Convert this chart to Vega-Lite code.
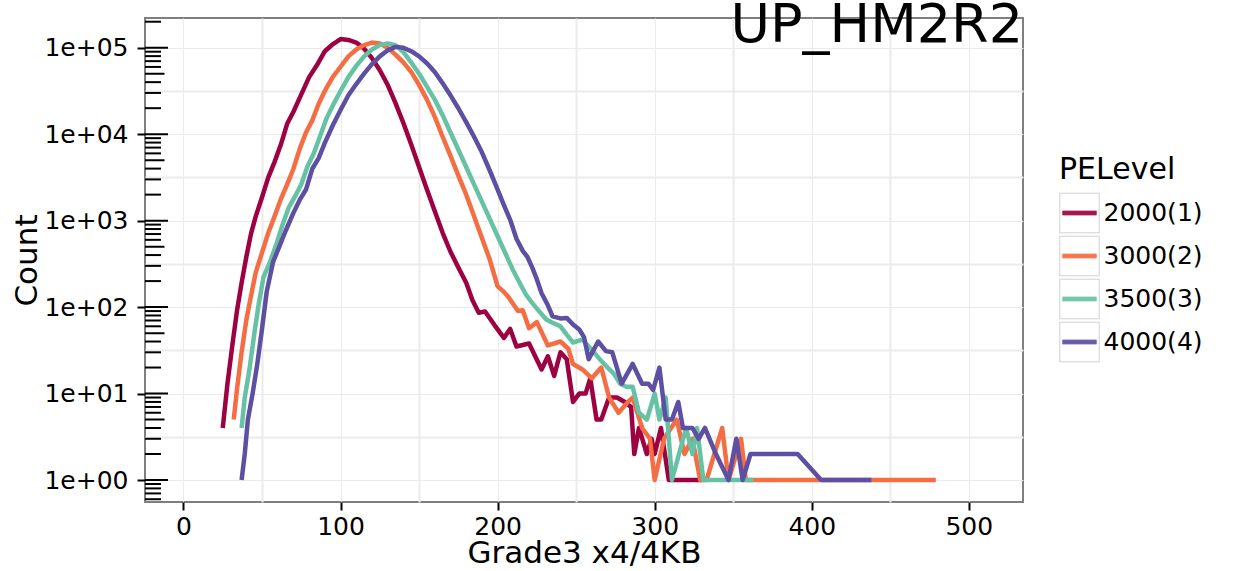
{
  "$schema": "https://vega.github.io/schema/vega-lite/v6.json",
  "width": 878,
  "height": 484,
  "autosize": {"type": "none"},
  "padding": {"left": 145, "top": 18, "right": 211, "bottom": 69},
  "config": {
    "font": "DejaVu Sans",
    "view": {"stroke": "#7f7f7f", "strokeWidth": 2},
    "axis": {"domain": false, "labelColor": "black", "titleColor": "black", "titleFontWeight": "normal", "tickColor": "black", "tickWidth": 2, "tickSize": 8, "gridColor": "#ebebeb"}
  },
  "title": {"text": "UP_HM2R2", "anchor": "end", "frame": "group", "fontSize": 54, "fontWeight": "normal", "color": "black", "baseline": "alphabetic", "offset": -27, "dy": 51},
  "datasets": {
    "curves": [
      {"s":"2000(1)","x":25,"n":4},{"s":"2000(1)","x":28,"n":13},{"s":"2000(1)","x":31,"n":35},{"s":"2000(1)","x":34,"n":89},{"s":"2000(1)","x":37,"n":191},{"s":"2000(1)","x":40,"n":380},{"s":"2000(1)","x":43,"n":708},{"s":"2000(1)","x":46,"n":1122},{"s":"2000(1)","x":50,"n":1862},{"s":"2000(1)","x":54,"n":3162},{"s":"2000(1)","x":58,"n":4786},{"s":"2000(1)","x":62,"n":7586},{"s":"2000(1)","x":66,"n":13183},{"s":"2000(1)","x":70,"n":18197},{"s":"2000(1)","x":75,"n":28840},{"s":"2000(1)","x":80,"n":45709},{"s":"2000(1)","x":85,"n":63096},{"s":"2000(1)","x":90,"n":91201},{"s":"2000(1)","x":95,"n":109648},{"s":"2000(1)","x":100,"n":125893},{"s":"2000(1)","x":105,"n":123027},{"s":"2000(1)","x":110,"n":114815},{"s":"2000(1)","x":115,"n":97724},{"s":"2000(1)","x":120,"n":75858},{"s":"2000(1)","x":125,"n":54954},{"s":"2000(1)","x":130,"n":37154},{"s":"2000(1)","x":135,"n":22909},{"s":"2000(1)","x":140,"n":13490},{"s":"2000(1)","x":145,"n":7586},{"s":"2000(1)","x":150,"n":4169},{"s":"2000(1)","x":155,"n":2291},{"s":"2000(1)","x":160,"n":1288},{"s":"2000(1)","x":165,"n":724},{"s":"2000(1)","x":170,"n":437},{"s":"2000(1)","x":175,"n":288},{"s":"2000(1)","x":180,"n":191},{"s":"2000(1)","x":184,"n":120},{"s":"2000(1)","x":188,"n":86},{"s":"2000(1)","x":192,"n":89},{"s":"2000(1)","x":198,"n":62},{"s":"2000(1)","x":204,"n":44},{"s":"2000(1)","x":208,"n":56},{"s":"2000(1)","x":212,"n":35},{"s":"2000(1)","x":220,"n":38},{"s":"2000(1)","x":228,"n":19},{"s":"2000(1)","x":232,"n":27},{"s":"2000(1)","x":236,"n":16},{"s":"2000(1)","x":240,"n":30},{"s":"2000(1)","x":244,"n":25},{"s":"2000(1)","x":248,"n":8},{"s":"2000(1)","x":252,"n":10},{"s":"2000(1)","x":256,"n":10},{"s":"2000(1)","x":259,"n":15},{"s":"2000(1)","x":263,"n":5},{"s":"2000(1)","x":266,"n":5},{"s":"2000(1)","x":271,"n":9},{"s":"2000(1)","x":276,"n":9},{"s":"2000(1)","x":281,"n":8},{"s":"2000(1)","x":285,"n":7},{"s":"2000(1)","x":287,"n":2},{"s":"2000(1)","x":290,"n":4},{"s":"2000(1)","x":295,"n":2},{"s":"2000(1)","x":298,"n":3},{"s":"2000(1)","x":300,"n":2},{"s":"2000(1)","x":304,"n":4},{"s":"2000(1)","x":309,"n":1},{"s":"2000(1)","x":330,"n":1},
      {"s":"3000(2)","x":32,"n":5},{"s":"3000(2)","x":34,"n":11},{"s":"3000(2)","x":37,"n":30},{"s":"3000(2)","x":40,"n":71},{"s":"3000(2)","x":43,"n":135},{"s":"3000(2)","x":46,"n":251},{"s":"3000(2)","x":50,"n":427},{"s":"3000(2)","x":54,"n":724},{"s":"3000(2)","x":58,"n":1122},{"s":"3000(2)","x":62,"n":1778},{"s":"3000(2)","x":66,"n":2630},{"s":"3000(2)","x":70,"n":3981},{"s":"3000(2)","x":74,"n":6761},{"s":"3000(2)","x":78,"n":10471},{"s":"3000(2)","x":82,"n":14454},{"s":"3000(2)","x":86,"n":22387},{"s":"3000(2)","x":90,"n":31623},{"s":"3000(2)","x":95,"n":45709},{"s":"3000(2)","x":100,"n":60256},{"s":"3000(2)","x":105,"n":79433},{"s":"3000(2)","x":110,"n":95499},{"s":"3000(2)","x":115,"n":107152},{"s":"3000(2)","x":120,"n":114815},{"s":"3000(2)","x":125,"n":112202},{"s":"3000(2)","x":130,"n":100000},{"s":"3000(2)","x":135,"n":83176},{"s":"3000(2)","x":140,"n":67608},{"s":"3000(2)","x":145,"n":52481},{"s":"3000(2)","x":150,"n":37154},{"s":"3000(2)","x":155,"n":25119},{"s":"3000(2)","x":160,"n":15849},{"s":"3000(2)","x":165,"n":9333},{"s":"3000(2)","x":170,"n":5623},{"s":"3000(2)","x":175,"n":3311},{"s":"3000(2)","x":180,"n":1995},{"s":"3000(2)","x":185,"n":1122},{"s":"3000(2)","x":190,"n":631},{"s":"3000(2)","x":195,"n":355},{"s":"3000(2)","x":200,"n":174},{"s":"3000(2)","x":204,"n":150},{"s":"3000(2)","x":207,"n":130},{"s":"3000(2)","x":210,"n":108},{"s":"3000(2)","x":213,"n":90},{"s":"3000(2)","x":216,"n":92},{"s":"3000(2)","x":220,"n":57},{"s":"3000(2)","x":225,"n":67},{"s":"3000(2)","x":232,"n":36},{"s":"3000(2)","x":240,"n":40},{"s":"3000(2)","x":245,"n":33},{"s":"3000(2)","x":248,"n":22},{"s":"3000(2)","x":254,"n":19},{"s":"3000(2)","x":260,"n":15},{"s":"3000(2)","x":266,"n":20},{"s":"3000(2)","x":271,"n":9},{"s":"3000(2)","x":277,"n":6},{"s":"3000(2)","x":283,"n":8},{"s":"3000(2)","x":286,"n":9},{"s":"3000(2)","x":292,"n":4},{"s":"3000(2)","x":297,"n":3},{"s":"3000(2)","x":300,"n":1},{"s":"3000(2)","x":306,"n":3},{"s":"3000(2)","x":314,"n":5},{"s":"3000(2)","x":319,"n":2},{"s":"3000(2)","x":324,"n":3},{"s":"3000(2)","x":329,"n":1},{"s":"3000(2)","x":333,"n":1},{"s":"3000(2)","x":338,"n":2},{"s":"3000(2)","x":343,"n":4},{"s":"3000(2)","x":347,"n":1},{"s":"3000(2)","x":352,"n":2},{"s":"3000(2)","x":355,"n":3},{"s":"3000(2)","x":358,"n":1},{"s":"3000(2)","x":479,"n":1},
      {"s":"3500(3)","x":37,"n":4},{"s":"3500(3)","x":39,"n":9},{"s":"3500(3)","x":42,"n":19},{"s":"3500(3)","x":45,"n":48},{"s":"3500(3)","x":48,"n":112},{"s":"3500(3)","x":51,"n":224},{"s":"3500(3)","x":55,"n":331},{"s":"3500(3)","x":59,"n":525},{"s":"3500(3)","x":63,"n":891},{"s":"3500(3)","x":67,"n":1413},{"s":"3500(3)","x":71,"n":1905},{"s":"3500(3)","x":75,"n":2630},{"s":"3500(3)","x":79,"n":4266},{"s":"3500(3)","x":83,"n":6026},{"s":"3500(3)","x":87,"n":9550},{"s":"3500(3)","x":91,"n":15136},{"s":"3500(3)","x":95,"n":21380},{"s":"3500(3)","x":100,"n":31623},{"s":"3500(3)","x":105,"n":45709},{"s":"3500(3)","x":110,"n":61660},{"s":"3500(3)","x":115,"n":79433},{"s":"3500(3)","x":120,"n":95499},{"s":"3500(3)","x":125,"n":107152},{"s":"3500(3)","x":130,"n":112202},{"s":"3500(3)","x":135,"n":107152},{"s":"3500(3)","x":140,"n":89125},{"s":"3500(3)","x":145,"n":67608},{"s":"3500(3)","x":150,"n":50119},{"s":"3500(3)","x":155,"n":35481},{"s":"3500(3)","x":160,"n":25119},{"s":"3500(3)","x":165,"n":16596},{"s":"3500(3)","x":170,"n":10471},{"s":"3500(3)","x":175,"n":6607},{"s":"3500(3)","x":180,"n":4169},{"s":"3500(3)","x":185,"n":2630},{"s":"3500(3)","x":190,"n":1660},{"s":"3500(3)","x":195,"n":1047},{"s":"3500(3)","x":200,"n":661},{"s":"3500(3)","x":205,"n":417},{"s":"3500(3)","x":210,"n":263},{"s":"3500(3)","x":214,"n":191},{"s":"3500(3)","x":218,"n":140},{"s":"3500(3)","x":222,"n":112},{"s":"3500(3)","x":227,"n":87},{"s":"3500(3)","x":231,"n":72},{"s":"3500(3)","x":235,"n":66},{"s":"3500(3)","x":240,"n":60},{"s":"3500(3)","x":244,"n":48},{"s":"3500(3)","x":248,"n":39},{"s":"3500(3)","x":254,"n":42},{"s":"3500(3)","x":260,"n":32},{"s":"3500(3)","x":265,"n":25},{"s":"3500(3)","x":270,"n":20},{"s":"3500(3)","x":274,"n":17},{"s":"3500(3)","x":278,"n":13},{"s":"3500(3)","x":282,"n":12},{"s":"3500(3)","x":286,"n":12},{"s":"3500(3)","x":290,"n":6},{"s":"3500(3)","x":295,"n":5},{"s":"3500(3)","x":300,"n":10},{"s":"3500(3)","x":303,"n":5},{"s":"3500(3)","x":307,"n":9},{"s":"3500(3)","x":311,"n":1},{"s":"3500(3)","x":320,"n":4},{"s":"3500(3)","x":324,"n":2},{"s":"3500(3)","x":327,"n":4},{"s":"3500(3)","x":331,"n":1},{"s":"3500(3)","x":363,"n":1},
      {"s":"4000(4)","x":37,"n":1},{"s":"4000(4)","x":39,"n":2},{"s":"4000(4)","x":41,"n":5},{"s":"4000(4)","x":44,"n":10},{"s":"4000(4)","x":47,"n":22},{"s":"4000(4)","x":50,"n":56},{"s":"4000(4)","x":53,"n":151},{"s":"4000(4)","x":57,"n":331},{"s":"4000(4)","x":61,"n":501},{"s":"4000(4)","x":65,"n":759},{"s":"4000(4)","x":70,"n":1230},{"s":"4000(4)","x":74,"n":1738},{"s":"4000(4)","x":78,"n":2291},{"s":"4000(4)","x":82,"n":3981},{"s":"4000(4)","x":86,"n":5248},{"s":"4000(4)","x":90,"n":7943},{"s":"4000(4)","x":95,"n":12589},{"s":"4000(4)","x":100,"n":19055},{"s":"4000(4)","x":105,"n":28184},{"s":"4000(4)","x":110,"n":38019},{"s":"4000(4)","x":115,"n":50119},{"s":"4000(4)","x":120,"n":64565},{"s":"4000(4)","x":125,"n":79433},{"s":"4000(4)","x":130,"n":93325},{"s":"4000(4)","x":135,"n":102329},{"s":"4000(4)","x":140,"n":100000},{"s":"4000(4)","x":145,"n":91201},{"s":"4000(4)","x":150,"n":79433},{"s":"4000(4)","x":155,"n":66069},{"s":"4000(4)","x":160,"n":52481},{"s":"4000(4)","x":165,"n":38905},{"s":"4000(4)","x":170,"n":28184},{"s":"4000(4)","x":175,"n":19953},{"s":"4000(4)","x":180,"n":13804},{"s":"4000(4)","x":185,"n":9333},{"s":"4000(4)","x":190,"n":6166},{"s":"4000(4)","x":195,"n":3802},{"s":"4000(4)","x":200,"n":2291},{"s":"4000(4)","x":204,"n":1514},{"s":"4000(4)","x":208,"n":1023},{"s":"4000(4)","x":212,"n":617},{"s":"4000(4)","x":216,"n":447},{"s":"4000(4)","x":219,"n":380},{"s":"4000(4)","x":222,"n":288},{"s":"4000(4)","x":225,"n":209},{"s":"4000(4)","x":228,"n":145},{"s":"4000(4)","x":232,"n":105},{"s":"4000(4)","x":235,"n":78},{"s":"4000(4)","x":240,"n":74},{"s":"4000(4)","x":244,"n":75},{"s":"4000(4)","x":248,"n":63},{"s":"4000(4)","x":252,"n":55},{"s":"4000(4)","x":255,"n":45},{"s":"4000(4)","x":258,"n":25},{"s":"4000(4)","x":264,"n":40},{"s":"4000(4)","x":269,"n":31},{"s":"4000(4)","x":273,"n":30},{"s":"4000(4)","x":279,"n":13},{"s":"4000(4)","x":286,"n":22},{"s":"4000(4)","x":292,"n":13},{"s":"4000(4)","x":296,"n":13},{"s":"4000(4)","x":299,"n":11},{"s":"4000(4)","x":303,"n":20},{"s":"4000(4)","x":307,"n":5},{"s":"4000(4)","x":311,"n":5},{"s":"4000(4)","x":315,"n":8},{"s":"4000(4)","x":318,"n":4},{"s":"4000(4)","x":324,"n":4},{"s":"4000(4)","x":328,"n":3},{"s":"4000(4)","x":332,"n":4},{"s":"4000(4)","x":339,"n":2},{"s":"4000(4)","x":347,"n":1},{"s":"4000(4)","x":352,"n":3},{"s":"4000(4)","x":356,"n":1},{"s":"4000(4)","x":361,"n":2},{"s":"4000(4)","x":391,"n":2},{"s":"4000(4)","x":406,"n":1},{"s":"4000(4)","x":438,"n":1}
    ],
    "logticks": [
      {"v":0.6,"k":"S"},{"v":0.7,"k":"S"},{"v":0.8,"k":"S"},{"v":0.9,"k":"S"},
      {"v":1,"k":"L"},{"v":2,"k":"S"},{"v":3,"k":"S"},{"v":4,"k":"S"},{"v":5,"k":"M"},{"v":6,"k":"S"},{"v":7,"k":"S"},{"v":8,"k":"S"},{"v":9,"k":"S"},
      {"v":10,"k":"L"},{"v":20,"k":"S"},{"v":30,"k":"S"},{"v":40,"k":"S"},{"v":50,"k":"M"},{"v":60,"k":"S"},{"v":70,"k":"S"},{"v":80,"k":"S"},{"v":90,"k":"S"},
      {"v":100,"k":"L"},{"v":200,"k":"S"},{"v":300,"k":"S"},{"v":400,"k":"S"},{"v":500,"k":"M"},{"v":600,"k":"S"},{"v":700,"k":"S"},{"v":800,"k":"S"},{"v":900,"k":"S"},
      {"v":1000,"k":"L"},{"v":2000,"k":"S"},{"v":3000,"k":"S"},{"v":4000,"k":"S"},{"v":5000,"k":"M"},{"v":6000,"k":"S"},{"v":7000,"k":"S"},{"v":8000,"k":"S"},{"v":9000,"k":"S"},
      {"v":10000,"k":"L"},{"v":20000,"k":"S"},{"v":30000,"k":"S"},{"v":40000,"k":"S"},{"v":50000,"k":"M"},{"v":60000,"k":"S"},{"v":70000,"k":"S"},{"v":80000,"k":"S"},{"v":90000,"k":"S"},
      {"v":100000,"k":"L"},{"v":200000,"k":"S"}
    ]
  },
  "layer": [
    {
      "data": {"name": "curves"},
      "mark": {"type": "line", "strokeWidth": 4.5, "strokeJoin": "round", "clip": true},
      "encoding": {
        "x": {
          "field": "x", "type": "quantitative",
          "scale": {"domain": [-24.5, 534.5], "nice": false, "zero": false},
          "axis": {
            "values": [0, 50, 100, 150, 200, 250, 300, 350, 400, 450, 500],
            "labelExpr": "datum.value % 100 === 0 ? datum.label : ''",
            "grid": true,
            "gridWidth": {"condition": {"test": "datum.value % 100 !== 0", "value": 2}, "value": 1},
            "tickOpacity": {"condition": {"test": "datum.value % 100 !== 0", "value": 0}, "value": 1},
            "labelFontSize": 25, "labelPadding": 4,
            "title": "Grade3 x4/4KB", "titleFontSize": 31, "titlePadding": -1
          }
        },
        "y": {
          "field": "n", "type": "quantitative",
          "scale": {"type": "log", "domain": [0.557, 220800], "nice": false},
          "axis": {
            "values": [1, 3.1623, 10, 31.623, 100, 316.23, 1000, 3162.3, 10000, 31623, 100000],
            "labelExpr": "abs(log(datum.value)/LN10 - round(log(datum.value)/LN10)) < 0.1 ? '1e+0' + round(log(datum.value)/LN10) : ''",
            "grid": true,
            "gridWidth": {"condition": {"test": "abs(log(datum.value)/LN10 - round(log(datum.value)/LN10)) > 0.1", "value": 2}, "value": 1},
            "tickOpacity": {"condition": {"test": "abs(log(datum.value)/LN10 - round(log(datum.value)/LN10)) > 0.1", "value": 0}, "value": 1},
            "labelFontSize": 25, "labelPadding": 9,
            "title": "Count", "titleFontSize": 31, "titlePadding": 0
          }
        },
        "color": {
          "field": "s", "type": "nominal",
          "scale": {"domain": ["2000(1)", "3000(2)", "3500(3)", "4000(4)"], "range": ["#9E0142", "#F46D43", "#66C2A5", "#5E4FA2"]},
          "legend": {
            "title": "PELevel", "orient": "none", "legendX": 914, "legendY": 137, "padding": 0,
            "symbolType": "M-1,-1M1,1M-0.85,-0.1H0.85M-0.85,-0.0875H0.85M-0.85,-0.075H0.85M-0.85,-0.0625H0.85M-0.85,-0.05H0.85M-0.85,-0.0375H0.85M-0.85,-0.025H0.85M-0.85,-0.0125H0.85M-0.85,0H0.85M-0.85,0.0125H0.85M-0.85,0.025H0.85M-0.85,0.0375H0.85M-0.85,0.05H0.85M-0.85,0.0625H0.85M-0.85,0.075H0.85M-0.85,0.0875H0.85M-0.85,0.1H0.85",
            "symbolSize": 1600, "symbolStrokeWidth": 0.5, "symbolFillColor": "transparent",
            "labelFontSize": 25, "labelColor": "black", "labelOffset": 3.5,
            "titleFontSize": 30, "titleFontWeight": "normal", "titleColor": "black", "titlePadding": 7.5,
            "rowPadding": 0
          }
        }
      }
    },
    {
      "data": {"name": "logticks"},
      "mark": {"type": "tick", "orient": "horizontal", "thickness": 2, "color": "black", "clip": true, "opacity": 1},
      "encoding": {
        "x": {"datum": -24.5, "type": "quantitative"},
        "y": {"field": "v", "type": "quantitative"},
        "size": {"field": "k", "type": "ordinal", "scale": {"domain": ["L", "M", "S"], "range": [46, 32, 18]}, "legend": null}
      }
    },
    {
      "data": {"name": "curves"},
      "transform": [{"filter": "false"}],
      "mark": {"type": "point", "filled": false},
      "encoding": {
        "stroke": {
          "field": "s", "type": "nominal",
          "scale": {"domain": ["b1", "b2", "b3", "b4"], "range": ["#b5b5b5", "#b5b5b5", "#b5b5b5", "#b5b5b5"]},
          "legend": {
            "title": null, "orient": "none", "legendX": 914, "legendY": 174.5, "padding": 0,
            "symbolType": "M-1,-1H1V1H-1ZM-0.975,-0.975H0.975V0.975H-0.975Z", "symbolSize": 1600, "symbolStrokeWidth": 0.5, "symbolFillColor": "transparent",
            "labelExpr": "''",
            "rowPadding": 0
          }
        }
      }
    }
  ]
}
